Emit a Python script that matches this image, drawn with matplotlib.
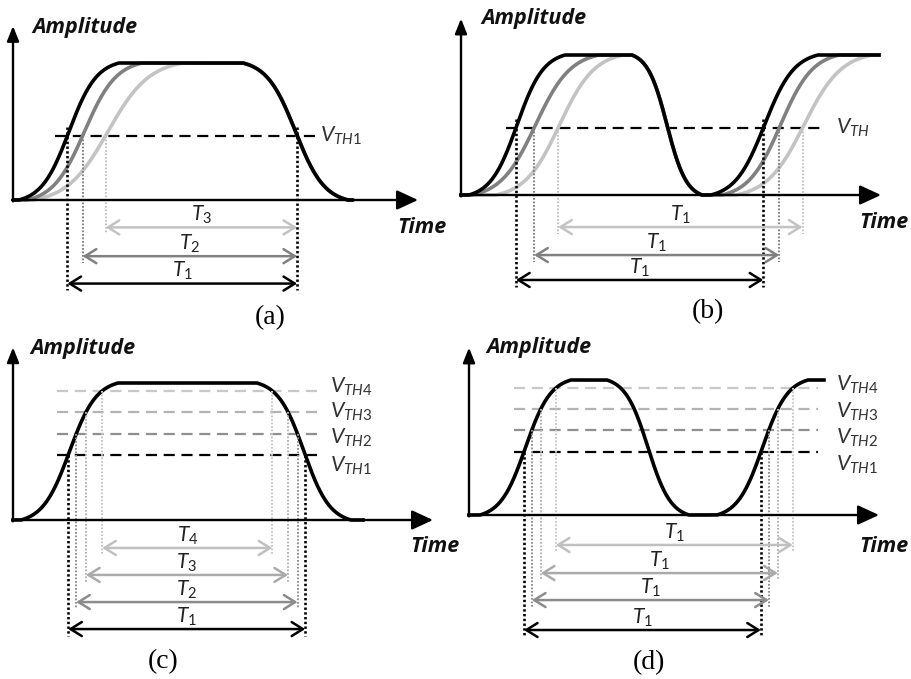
import numpy as np
import matplotlib
matplotlib.use("Agg")
import matplotlib.pyplot as plt

plt.rcParams['mathtext.fontset'] = 'custom'
plt.rcParams['mathtext.it'] = 'Lato:italic'
plt.rcParams['mathtext.rm'] = 'Lato'

# edges are (start, end) on the time axis, alternating rise / fall
a_edges = {'black': [(6, 106), (230, 335)],
           'gray': [(14, 129), (230, 335)],
           'light': [(20, 170), (230, 335)]}
a_vth = 0.47

b_edges = {'black': [(8, 104), (171, 241), (250, 357)],
           'gray': [(11, 138), (171, 241), (261, 378)],
           'light': [(35, 162), (171, 241), (275, 411)]}
b_vth = 0.48

c_edges = [(8, 105), (244, 338)]
c_vth = [0.474, 0.628, 0.788, 0.942]

d_edges = [(11, 102), (138, 220), (248, 339)]
d_vth = [0.467, 0.63, 0.785, 0.94]

W, H = 912, 679
fig = plt.figure(figsize=(W / 100, H / 100), dpi=100)

shade = {'black': '#000000', 'gray': '#808080', 'light': '#c3c3c3'}
vth_shade = ['#000000', '#8f8f8f', '#b3b3b3', '#c8c8c8']
vth_arrow = ['#000000', '#8c8c8c', '#aaaaaa', '#c0c0c0']
K = 1.8  # edge steepness


def edge(t, t0, t1, up):
    p = np.clip((t - t0) / (t1 - t0), 0, 1)
    s = 0.5 + 0.5 * np.tanh(K * (2 * p - 1)) / np.tanh(K)
    return s if up else 1 - s


def wave(t, edges):
    a = np.zeros_like(t)
    for i, (t0, t1) in enumerate(edges):
        a = np.where(t >= t0, edge(t, t0, t1, i % 2 == 0), a)
    return a


def cross(e, v, up):
    t0, t1 = e
    s = v if up else 1 - v
    p = 0.5 + np.arctanh((2 * s - 1) * np.tanh(K)) / (2 * K)
    return t0 + p * (t1 - t0)


def panel(ox, oy, hpx):
    # one unit of time = one pixel, amplitude 1 = hpx pixels
    ax = fig.add_axes([0, 0, 1, 1])
    ax.set_xlim(-ox, W - ox)
    ax.set_ylim(-(H - oy) / hpx, oy / hpx)
    ax.axis('off')
    return ax


def frame(ax, tmax, amax, amp_at, time_at):
    ax.annotate('', xy=(tmax, 0), xytext=(-1, 0),
                arrowprops=dict(arrowstyle='-|>,head_length=0.65,head_width=0.3',
                                lw=1.7, color='k', mutation_scale=20, shrinkA=0, shrinkB=0))
    ax.annotate('', xy=(0, amax), xytext=(0, -0.01),
                arrowprops=dict(arrowstyle='-|>,head_length=0.45,head_width=0.18',
                                lw=1.7, color='k', mutation_scale=20, shrinkA=0, shrinkB=0))
    ax.text(amp_at[0], amp_at[1], 'Amplitude', family='Open Sans', weight='bold',
            style='italic', fontsize=15.5, va='center', ha='left', color='#111111')
    ax.text(time_at[0], time_at[1], 'Time', family='Open Sans', weight='bold',
            style='italic', fontsize=15.5, va='center', ha='left', color='#111111')


def span(ax, t_a, t_b, row, color, label, lw=1.8):
    ax.annotate('', xy=(t_b, row), xytext=(t_a, row),
                arrowprops=dict(arrowstyle='<->,head_length=0.45,head_width=0.28',
                                lw=lw, color=color, mutation_scale=18, shrinkA=0, shrinkB=0))
    ax.text((t_a + t_b) / 2, row + 0.01, label, ha='center', va='bottom',
            fontsize=15, color='#222222')


def guide(ax, t, top, bottom, color, lw):
    ax.plot([t, t], [top, bottom], color=color, lw=lw, ls=(0, (0.9, 0.9)))


def sub(txt):
    return r'$\mathit{' + txt[0] + r'}_{\mathit{' + txt[1:] + r'}}$'


# (a) one pulse, three rise times, single threshold
ax = panel(13, 200, 137)
t = np.linspace(0, 340, 800)
frame(ax, 405, 1.27, (19, 1.26), (384, -0.2))
ax.plot([42, 302], [a_vth, a_vth], color='k', lw=1.6, ls=(0, (5, 3)))
ax.text(307, a_vth, sub('VTH1'), fontsize=15.5, va='center', color='#333333')
for name in ['light', 'gray', 'black']:
    ax.plot(t, wave(t, a_edges[name]), color=shade[name], lw=2.6,
            solid_capstyle='round')
rows = {'light': -0.2, 'gray': -0.41, 'black': -0.61}
labels = {'light': 'T3', 'gray': 'T2', 'black': 'T1'}
t_fall = cross(a_edges['black'][1], a_vth, False)
for name in ['light', 'gray', 'black']:
    t_rise = cross(a_edges[name][0], a_vth, True)
    top = a_vth + (0.06 if name == 'black' else 0.0)
    guide(ax, t_rise, top, rows[name] - 0.05, shade[name], 1.9 if name == 'black' else 1.4)
    span(ax, t_rise, t_fall, rows[name], shade[name], sub(labels[name]))
guide(ax, t_fall, a_vth + 0.06, -0.66, 'k', 1.9)
ax.text(257, -0.86, '(a)', family='Liberation Serif', fontsize=20, ha='center', va='center')

# (b) periodic signal, three rise times, single threshold
ax = panel(461, 195, 140)
t = np.linspace(0, 418, 900)
frame(ax, 420, 1.26, (20, 1.26), (398, -0.2))
ax.plot([45, 362], [b_vth, b_vth], color='k', lw=1.6, ls=(0, (5, 3)))
ax.text(375, b_vth, sub('VTH'), fontsize=15.5, va='center', color='#333333')
for name in ['light', 'gray', 'black']:
    ax.plot(t, wave(t, b_edges[name]), color=shade[name], lw=2.6)
rows = {'light': -0.229, 'gray': -0.429, 'black': -0.607}
for name in ['light', 'gray', 'black']:
    t1 = cross(b_edges[name][0], b_vth, True)
    t2 = cross(b_edges[name][2], b_vth, True)
    top = b_vth + (0.06 if name == 'black' else 0.0)
    lw = 1.9 if name == 'black' else 1.4
    guide(ax, t1, top, rows[name] - 0.05, shade[name], lw)
    guide(ax, t2, top, rows[name] - 0.05, shade[name], lw)
    span(ax, t1, t2, rows[name], shade[name], sub('T1'))
ax.text(247, -0.83, '(b)', family='Liberation Serif', fontsize=20, ha='center', va='center')

# (c) one pulse, four thresholds
ax = panel(13, 520, 137)
t = np.linspace(0, 350, 800)
frame(ax, 420, 1.26, (17, 1.255), (397, -0.197))
c_label_y = [0.394, 0.599, 0.788, 0.971]
c_rows = [-0.796, -0.599, -0.401, -0.204]
for k in range(4):
    ax.plot([44, 310], [c_vth[k], c_vth[k]], color=vth_shade[k], lw=1.6,
            ls=(0, (5, 3)))
    ax.text(317, c_label_y[k], sub('VTH%d' % (k + 1)), fontsize=15.5, va='center',
            color='#333333')
ax.plot(t, wave(t, c_edges), color='k', lw=2.6)
for k in range(4):
    t1 = cross(c_edges[0], c_vth[k], True)
    t2 = cross(c_edges[1], c_vth[k], False)
    lw = 1.9 if k == 0 else 1.4
    guide(ax, t1, c_vth[k], c_rows[k] - 0.05, vth_shade[k], lw)
    guide(ax, t2, c_vth[k], c_rows[k] - 0.05, vth_shade[k], lw)
    span(ax, t1, t2, c_rows[k], vth_arrow[k], sub('T%d' % (k + 1)))
ax.text(150, -1.03, '(c)', family='Liberation Serif', fontsize=20, ha='center', va='center')

# (d) periodic signal, four thresholds
ax = panel(469, 515, 135)
t = np.linspace(0, 355, 800)
frame(ax, 410, 1.24, (17, 1.24), (390, -0.237))
d_label_y = [0.37, 0.57, 0.763, 0.963]
d_rows = [-0.852, -0.63, -0.43, -0.222]
for k in range(4):
    ax.plot([45, 349], [d_vth[k], d_vth[k]], color=vth_shade[k], lw=1.6,
            ls=(0, (5, 3)))
    ax.text(367, d_label_y[k], sub('VTH%d' % (k + 1)), fontsize=15.5, va='center',
            color='#333333')
ax.plot(t, wave(t, d_edges), color='k', lw=2.6)
for k in range(4):
    t1 = cross(d_edges[0], d_vth[k], True)
    t2 = cross(d_edges[2], d_vth[k], True)
    lw = 1.9 if k == 0 else 1.4
    guide(ax, t1, d_vth[k], d_rows[k] - 0.05, vth_shade[k], lw)
    guide(ax, t2, d_vth[k], d_rows[k] - 0.05, vth_shade[k], lw)
    span(ax, t1, t2, d_rows[k], vth_arrow[k], sub('T1'))
ax.text(180, -1.09, '(d)', family='Liberation Serif', fontsize=20, ha='center', va='center')

fig.savefig('out.png', dpi=100, facecolor='white')
